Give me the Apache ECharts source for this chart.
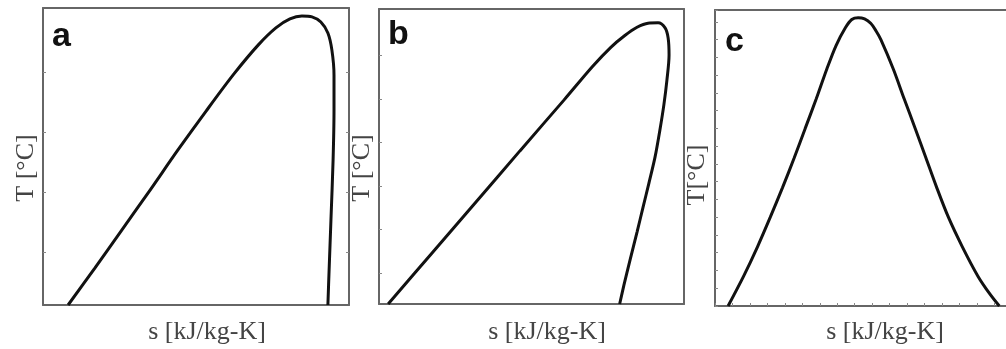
<!DOCTYPE html>
<html>
<head>
<meta charset="utf-8">
<script src="https://cdn.jsdelivr.net/npm/echarts@6/dist/echarts.min.js"></script>
<style>html,body{margin:0;padding:0;background:#fff}#chart{width:1006px;height:349px}</style>
</head>
<body>
<div id="chart"></div>
<script>
// Panel labels and axis titles
const panelLetters = ['a', 'b', 'c'];
const xTitles = ['s [kJ/kg-K]', 's [kJ/kg-K]', 's [kJ/kg-K]'];
const yTitles = ['T [°C]', 'T [°C]', 'T[°C]'];

// Panel a: entropy (s) and temperature (T), normalised 0-100
const aS = [8.2, 17.0, 25.8, 35.0, 44.1, 53.3, 62.4, 70.3, 76.1, 80.7, 84.6, 87.9, 90.8, 93.1, 94.4, 95.1, 95.1, 94.8, 94.1, 93.5, 93.1];
const aT = [0, 12.5, 25.3, 38.7, 52.2, 65.3, 77.8, 87.5, 93.3, 96.3, 97.3, 97.0, 95.3, 91.6, 85.9, 77.4, 65.7, 48.8, 28.6, 11.8, 0];

// Panel b
const bS = [3.0, 17.4, 31.8, 46.2, 60.7, 70.0, 76.0, 80.6, 84.6, 88.2, 91.5, 93.8, 94.8, 95.1, 94.4, 93.4, 92.1, 90.5, 88.5, 86.6, 84.6, 82.3, 80.3, 78.9];
const bT = [0, 17.3, 34.6, 51.9, 69.2, 80.5, 87.0, 91.0, 93.8, 95.2, 95.3, 93.6, 90.2, 84.4, 75.9, 67.5, 59.0, 49.8, 41.0, 32.9, 24.4, 14.9, 6.4, 0];

// Panel c
const cS = [4.5, 9.8, 14.6, 19.0, 23.2, 27.2, 31.0, 34.8, 38.4, 41.6, 44.8, 47.0, 49.2, 51.4, 53.5, 55.3, 57.0, 61.3, 65.0, 68.8, 72.5, 76.2, 80.2, 85.0, 90.4, 94.5, 97.7];
const cT = [0, 10, 20, 30, 40, 50, 60, 70, 80, 88, 94, 96.8, 97.4, 97.0, 95.5, 93.0, 90, 80, 70, 60, 50, 40, 30, 20, 10, 4, 0];

// Tick positions (no labels in the original)
const aTicks = [17.8, 38.0, 58.2, 78.5];
const bTicks = [10.5, 25.3, 40.0, 54.7, 69.5, 84.2];
const cTickInterval = 6;

const pair = (xs, ys) => xs.map((x, i) => [x, ys[i]]);

const grids = [
  {left: 43, top: 8, width: 306, height: 297},
  {left: 379, top: 9, width: 305, height: 295},
  {left: 715, top: 10, width: 295, height: 296}
];

const frameColor = '#666';
const tickStyle = {show: true, inside: true, length: 3, lineStyle: {color: '#888', width: 1}};

function ax(i, extra) {
  return Object.assign({
    type: 'value', gridIndex: i, min: 0, max: 100,
    axisLine: {show: true, onZero: false, lineStyle: {color: frameColor, width: 2}},
    axisLabel: {show: false}, splitLine: {show: false}, axisTick: {show: false}
  }, extra || {});
}

const xAxis = [
  ax(0), ax(0, {position: 'top'}),
  ax(1), ax(1, {position: 'top'}),
  ax(2, {interval: cTickInterval, axisTick: tickStyle}), ax(2, {position: 'top'})
];
const yAxis = [
  ax(0, {axisTick: Object.assign({}, tickStyle, {customValues: aTicks})}),
  ax(0, {position: 'right', axisTick: Object.assign({}, tickStyle, {customValues: aTicks})}),
  ax(1, {axisTick: Object.assign({}, tickStyle, {customValues: bTicks})}),
  ax(1, {position: 'right'}),
  ax(2, {interval: cTickInterval, axisTick: tickStyle}),
  ax(2, {position: 'right', axisLine: {show: false}})
];

const lineStyle = {color: '#111', width: 3};
const mk = (xi, yi, data) => ({
  type: 'line', xAxisIndex: xi, yAxisIndex: yi, data: data,
  smooth: 0.3, symbol: 'none', lineStyle: lineStyle, animation: false
});

const series = [
  mk(0, 0, pair(aS, aT)),
  mk(2, 2, pair(bS, bT)),
  mk(4, 4, pair(cS, cT))
];

const letterPos = [[52, 37], [388, 35], [725, 42]];
const xTitlePos = [[207, 332], [547, 332], [885, 332]];
const yTitlePos = [[26, 168], [362, 168], [697, 175]];

const graphic = [];
panelLetters.forEach((t, i) => {
  graphic.push({type: 'text', x: letterPos[i][0], y: letterPos[i][1],
    style: {text: t, font: 'bold 34px "Liberation Sans", Arial, sans-serif', fill: '#111', verticalAlign: 'middle', align: 'left'}});
  graphic.push({type: 'text', x: xTitlePos[i][0], y: xTitlePos[i][1],
    style: {text: xTitles[i], font: '26px "Liberation Serif", "Times New Roman", serif', fill: '#444', verticalAlign: 'middle', align: 'center'}});
  graphic.push({type: 'text', x: yTitlePos[i][0], y: yTitlePos[i][1], rotation: Math.PI / 2,
    style: {text: yTitles[i], font: '26px "Liberation Serif", "Times New Roman", serif', fill: '#444', verticalAlign: 'middle', align: 'center'}});
});

const chart = echarts.init(document.getElementById('chart'), null, {renderer: 'canvas'});
chart.setOption({
  animation: false,
  grid: grids,
  xAxis: xAxis,
  yAxis: yAxis,
  series: series,
  graphic: graphic
});
</script>
</body>
</html>
